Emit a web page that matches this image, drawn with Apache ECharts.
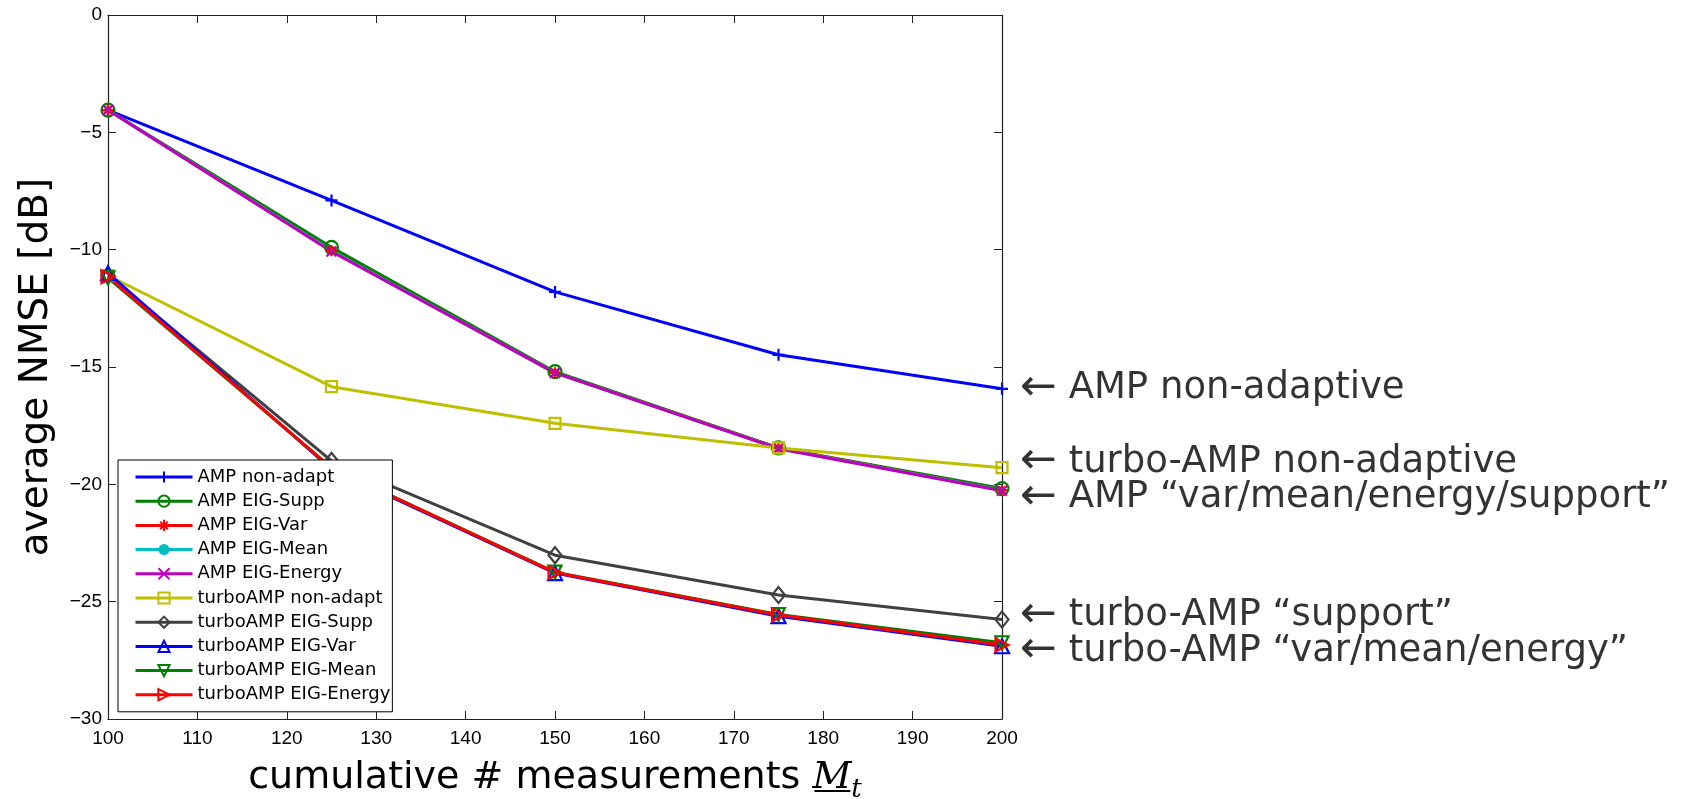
<!DOCTYPE html>
<html>
<head>
<meta charset="utf-8">
<script src="https://cdn.jsdelivr.net/npm/echarts@6/dist/echarts.min.js"></script>
<style>
html,body{margin:0;padding:0;background:#fff;}
#chart{width:1694px;height:799px;}
</style>
</head>
<body>
<div id="chart"></div>
<script>
// ---- data ----
const measurements = [100, 125, 150, 175, 200];
const ampNonAdapt   = [-4.05, -7.9, -11.8, -14.48, -15.93];
const ampEigSupp    = [-4.05, -9.9, -15.2, -18.45, -20.18];
const ampEigVar     = [-4.05, -10.05, -15.25, -18.45, -20.25];
const ampEigMean    = [-4.05, -10.05, -15.25, -18.47, -20.25];
const ampEigEnergy  = [-4.05, -10.08, -15.25, -18.48, -20.27];
const turboNonAdapt = [-11.1, -15.84, -17.4, -18.45, -19.29];
const turboEigSupp  = [-11.1, -19.0, -23.02, -24.72, -25.76];
const turboEigVar   = [-11.0, -19.35, -23.78, -25.62, -26.9];
const turboEigMean  = [-11.2, -19.3, -23.74, -25.55, -26.75];
const turboEigEnergy= [-11.15, -19.3, -23.76, -25.57, -26.85];
const annotationY = [-15.9, -19.05, -20.55, -25.6, -27.1];
const annotationText = [
  'AMP non-adaptive',
  'turbo-AMP non-adaptive',
  'AMP \u201Cvar/mean/energy/support\u201D',
  'turbo-AMP \u201Csupport\u201D',
  'turbo-AMP \u201Cvar/mean/energy\u201D'
];
const seriesNames = ['AMP non-adapt','AMP EIG-Supp','AMP EIG-Var','AMP EIG-Mean','AMP EIG-Energy',
  'turboAMP non-adapt','turboAMP EIG-Supp','turboAMP EIG-Var','turboAMP EIG-Mean','turboAMP EIG-Energy'];
const seriesValues = [ampNonAdapt, ampEigSupp, ampEigVar, ampEigMean, ampEigEnergy,
  turboNonAdapt, turboEigSupp, turboEigVar, turboEigMean, turboEigEnergy];

// ---- styles ----
const P = {
  plus: 'path://M5,0L5,10M0,5L10,5',
  star: 'path://M5,0L5,10M0,5L10,5M1.6,1.6L8.4,8.4M1.6,8.4L8.4,1.6',
  cross: 'path://M0,0L10,10M0,10L10,0',
  down: 'path://M0,0L10,0L5,9Z',
  right: 'path://M0,0L9,5L0,10Z'
};
const styles = [
  {c:'#0000ff', s:P.plus, fill:false},
  {c:'#008000', s:'circle', fill:false},
  {c:'#ff0000', s:P.star, fill:false},
  {c:'#00bfbf', s:'circle', fill:true},
  {c:'#bf00bf', s:P.cross, fill:false},
  {c:'#bfbf00', s:'rect', fill:false},
  {c:'#404040', s:'diamond', fill:false},
  {c:'#0000ff', s:'triangle', fill:false},
  {c:'#008000', s:P.down, fill:false},
  {c:'#ff0000', s:P.right, fill:false}
];
const sizes = [12, 13, 11, 4, 10, 11, [13,16], 14, 13, 13];

const minus = v => (v < 0 ? '\u2212' + (-v) : String(v));

const series = seriesNames.map((name, i) => ({
  name,
  type: 'line',
  data: measurements.map((m, j) => [m, seriesValues[i][j]]),
  symbol: styles[i].s,
  symbolSize: sizes[i],
  showAllSymbol: true,
  lineStyle: {color: styles[i].c, width: 3},
  itemStyle: {
    color: styles[i].fill ? styles[i].c : 'rgba(0,0,0,0)',
    borderColor: styles[i].c,
    borderWidth: styles[i].fill ? 0 : 2.2
  },
  emphasis: {disabled: true},
  z: 2
}));

series.push({
  name: 'annotations',
  type: 'scatter',
  data: annotationY.map((y, k) => ({value: [200, y], label: {formatter: '{a|\u2190} ' + annotationText[k]}})),
  symbolSize: 0,
  silent: true,
  label: {
    show: true,
    position: 'right',
    distance: 18,
    fontFamily: 'DejaVu Sans',
    fontSize: 37,
    color: '#000',
    rich: {a: {fontFamily: 'DejaVu Sans', fontSize: 44, color: '#000', verticalAlign: 'middle'}}
  },
  z: 3
});

// underline under M in x-axis title (decoration), positioned from text metrics
const ctx = document.createElement('canvas').getContext('2d');
ctx.font = '38px "DejaVu Sans"';
const w1 = ctx.measureText('cumulative # measurements ').width;
ctx.font = 'italic 38px "DejaVu Serif"';
const wM = ctx.measureText('M').width;
ctx.font = 'italic 26px "DejaVu Serif"';
const wt = ctx.measureText('t').width;
const titleW = w1 + wM + wt;
const gridLeft = 108, gridWidth = 894;
const titleLeft = gridLeft + gridWidth / 2 - titleW / 2;

const axisColor = '#222';
const chart = echarts.init(document.getElementById('chart'), null, {renderer: 'canvas'});
chart.setOption({
  animation: false,
  backgroundColor: '#fff',
  grid: {left: gridLeft, top: 15, width: gridWidth, bottom: 80, outerBoundsMode: 'none', containLabel: false},
  legend: {
    data: seriesNames,
    orient: 'vertical',
    left: 118,
    top: 460,
    backgroundColor: '#fff',
    borderColor: '#000',
    borderWidth: 1,
    borderRadius: 0,
    padding: [8, 2, 8, 16],
    itemWidth: 57,
    itemHeight: 14,
    itemGap: 6.2,
    lineStyle: {width: 3},
    textStyle: {fontFamily: 'DejaVu Sans', fontSize: 18, color: '#000'},
    selectedMode: false,
    z: 20
  },
  graphic: [{
    type: 'line',
    shape: {x1: titleLeft + w1 + 2, y1: 791, x2: titleLeft + w1 + wM - 1, y2: 791},
    style: {stroke: '#000', lineWidth: 2},
    silent: true
  }],
  xAxis: [{
    type: 'value', min: 100, max: 200, interval: 10, position: 'bottom',
    name: 'cumulative # measurements {m|M}{t|t}',
    nameLocation: 'middle', nameGap: 34,
    nameTextStyle: {
      fontFamily: 'DejaVu Sans', fontSize: 38, color: '#000', lineHeight: 50,
      rich: {
        m: {fontFamily: 'DejaVu Serif', fontStyle: 'italic', fontSize: 38, color: '#000', lineHeight: 50, verticalAlign: 'middle'},
        t: {fontFamily: 'DejaVu Serif', fontStyle: 'italic', fontSize: 26, color: '#000', lineHeight: 26, verticalAlign: 'bottom'}
      }
    },
    axisLine: {show: true, onZero: false, lineStyle: {color: axisColor, width: 1.2}},
    axisTick: {show: true, inside: true, length: 8, lineStyle: {color: axisColor}},
    axisLabel: {fontFamily: 'Liberation Sans', fontSize: 19, color: '#000', margin: 10},
    splitLine: {show: false}
  }, {
    type: 'value', min: 100, max: 200, interval: 10, position: 'top',
    axisLine: {show: true, onZero: false, lineStyle: {color: axisColor, width: 1.2}},
    axisTick: {show: true, inside: true, length: 8, lineStyle: {color: axisColor}},
    axisLabel: {show: false},
    splitLine: {show: false}
  }],
  yAxis: [{
    type: 'value', min: -30, max: 0, interval: 5, position: 'left',
    name: 'average NMSE [dB]',
    nameLocation: 'middle', nameGap: 52, nameRotate: 90,
    nameTextStyle: {fontFamily: 'DejaVu Sans', fontSize: 39, color: '#000'},
    axisLine: {show: true, onZero: false, lineStyle: {color: axisColor, width: 1.2}},
    axisTick: {show: true, inside: true, length: 8, lineStyle: {color: axisColor}},
    axisLabel: {fontFamily: 'Liberation Sans', fontSize: 19, color: '#000', margin: 6, formatter: minus},
    splitLine: {show: false}
  }, {
    type: 'value', min: -30, max: 0, interval: 5, position: 'right',
    axisLine: {show: true, onZero: false, lineStyle: {color: axisColor, width: 1.2}},
    axisTick: {show: true, inside: true, length: 8, lineStyle: {color: axisColor}},
    axisLabel: {show: false},
    splitLine: {show: false}
  }],
  series
});
</script>
</body>
</html>
